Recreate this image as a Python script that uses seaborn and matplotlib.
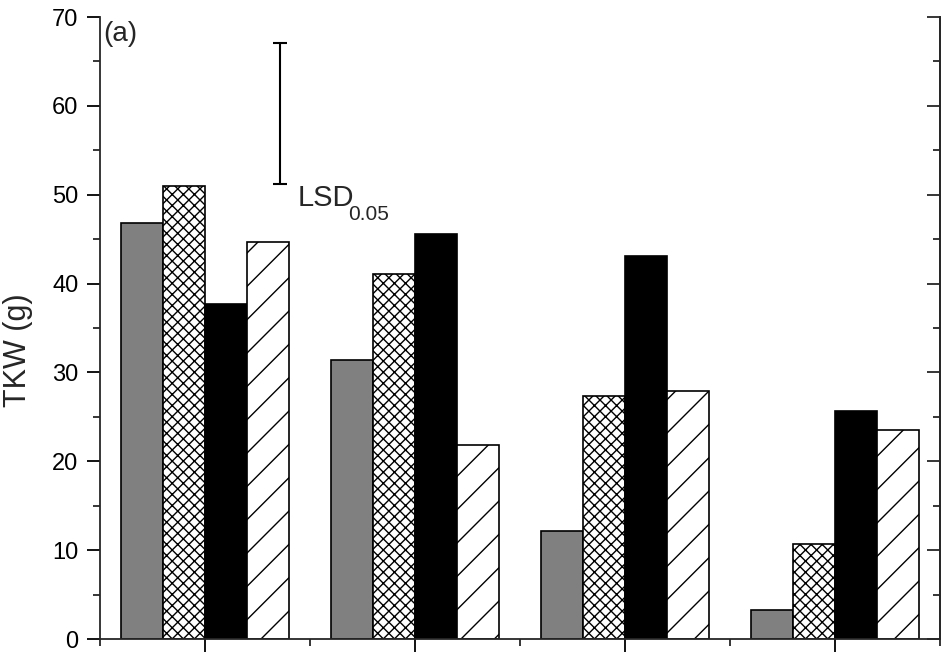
import numpy as np
import pandas as pd
import matplotlib
matplotlib.use("Agg")
import matplotlib.pyplot as plt
import seaborn as sns
from matplotlib.ticker import MultipleLocator

# ---- data ----
groups = ["G1", "G2", "G3", "G4"]
treatments = ["T1", "T2", "T3", "T4"]
t1_values = [46.85, 31.44, 12.13, 3.24]
t2_values = [50.97, 41.11, 27.39, 10.66]
t3_values = [37.66, 45.61, 43.06, 25.66]
t4_values = [44.67, 21.80, 27.91, 23.57]
lsd_low, lsd_high = 51.24, 67.02
y_ticks = [0, 10, 20, 30, 40, 50, 60, 70]

series = [t1_values, t2_values, t3_values, t4_values]
df = pd.DataFrame({
    "group": groups * 4,
    "treatment": sum([[t] * len(groups) for t in treatments], []),
    "value": sum(series, []),
})

sns.set_style("ticks")
plt.rcParams["font.family"] = ["Liberation Sans", "DejaVu Sans"]
plt.rcParams["hatch.linewidth"] = 1.0

fig = plt.figure(figsize=(9.47, 6.58), dpi=100)
ax = fig.add_axes([100 / 947, 19 / 658, 840 / 947, 622 / 658])

palette = {"T1": "#808080", "T2": "white", "T3": "black", "T4": "white"}
sns.barplot(data=df, x="group", y="value", hue="treatment", order=groups,
            hue_order=treatments, palette=palette, saturation=1, width=0.8,
            edgecolor="black", linewidth=1.2, ax=ax, legend=False, errorbar=None)

hatches = ["", "xxx", "", "/"]
for cont, h in zip(ax.containers, hatches):
    for bar in cont:
        bar.set_hatch(h)

ax.set_xlim(-0.5, 3.5)
ax.set_ylim(0, 70)
ax.set_yticks(y_ticks)
ax.yaxis.set_minor_locator(MultipleLocator(5))
ax.set_xticks(range(len(groups)))
ax.set_xticklabels([])
ax.set_xticks(np.arange(-0.5, 4.0, 1.0), minor=True)
ax.set_xlabel("")

for s in ["left", "bottom", "right"]:
    ax.spines[s].set_visible(True)
    ax.spines[s].set_linewidth(1.3)
ax.spines["top"].set_visible(False)

ax.tick_params(axis="both", which="major", direction="out", length=9.5, width=1.3,
               labelsize=17, pad=6, colors="black")
ax.tick_params(axis="both", which="minor", direction="out", length=5, width=1.3)

# right axis ticks pointing inward
tw = ax.twinx()
tw.set_ylim(0, 70)
tw.set_yticks(y_ticks)
tw.yaxis.set_minor_locator(MultipleLocator(5))
tw.tick_params(axis="y", which="major", direction="in", length=9.5, width=1.3, labelright=False)
tw.tick_params(axis="y", which="minor", direction="in", length=5, width=1.3)
for s in ["top", "left", "bottom"]:
    tw.spines[s].set_visible(False)
tw.spines["right"].set_linewidth(1.3)

ax.set_ylabel("TKW (g)", fontsize=22, va="center")
ax.yaxis.set_label_coords(-0.098, 0.465)

# LSD bar
lsd_x = 0.357
ax.errorbar([lsd_x], [(lsd_low + lsd_high) / 2], yerr=[(lsd_high - lsd_low) / 2],
            fmt="none", ecolor="black", elinewidth=1.5, capsize=5, capthick=1.5)
ax.text(0.443, 48.7, "LSD", fontsize=21, ha="left", va="baseline")
ax.text(0.681, 47.2, "0.05", fontsize=15, ha="left", va="baseline")
ax.text(-0.486, 68.1, "(a)", fontsize=20, ha="left", va="center")

fig.savefig("out.png", dpi=100)
